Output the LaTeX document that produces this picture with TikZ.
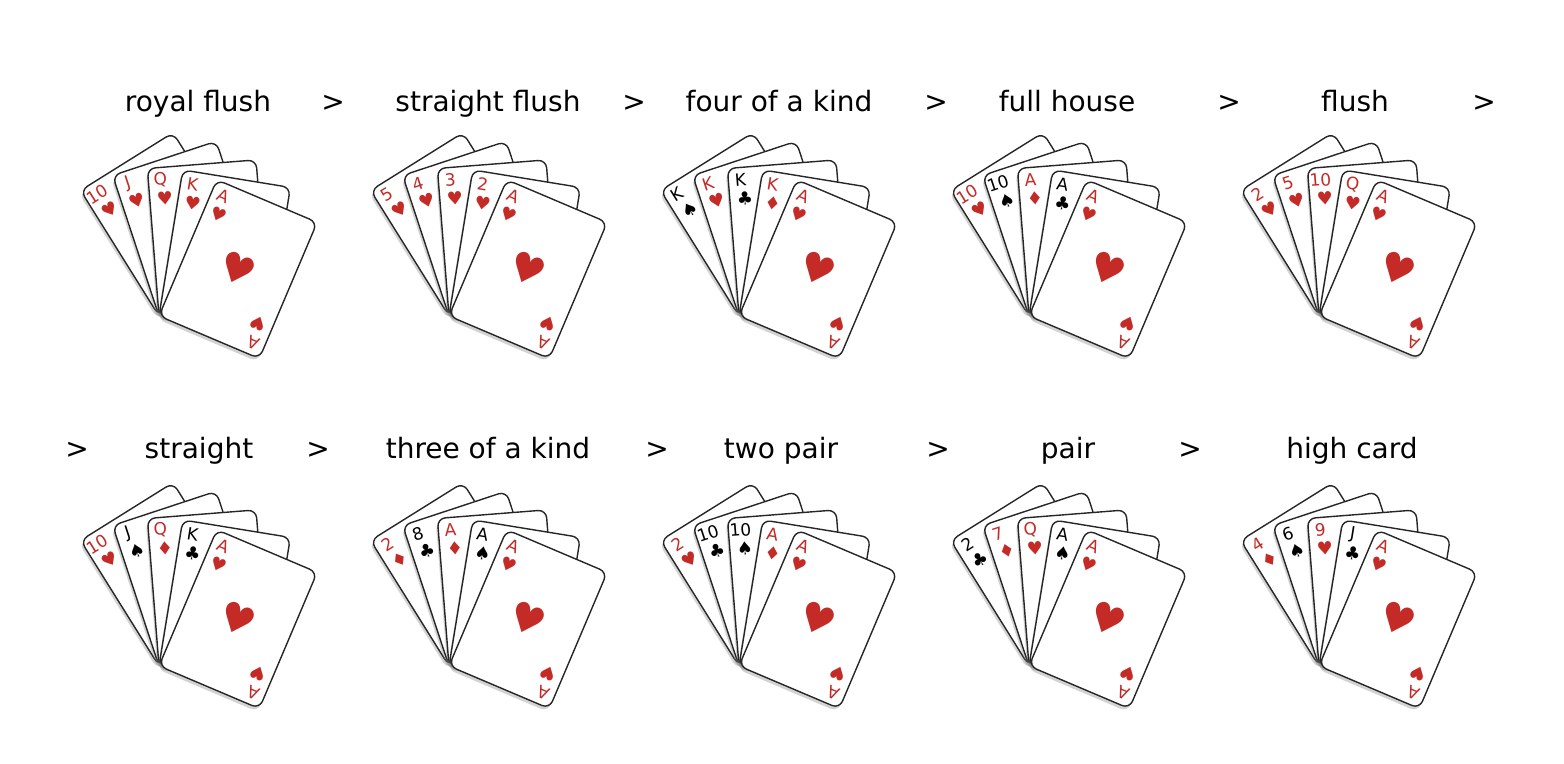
\documentclass[tikz,border=0pt]{standalone}
\usepackage{fontspec}
\setmainfont{DejaVu Sans}
\usepackage{tikz}
\usetikzlibrary{shadows}

\definecolor{cardh}{RGB}{196,42,38}
\definecolor{cardd}{RGB}{196,42,38}
\definecolor{cardc}{RGB}{0,0,0}
\definecolor{cards}{RGB}{0,0,0}

\newcommand{\suith}{♥}
\newcommand{\suitd}{♦}
\newcommand{\suitc}{♣}
\newcommand{\suits}{♠}

% a fanned hand of five cards, the last one shows its face
\newcommand{\pokerhand}[3]{%
  \foreach \r/\s [count=\i from 0, evaluate=\i as \a using 32-13.75*\i] in {#3} {
    \begin{scope}[shift={(#1,#2)}, rotate=\a, transform shape]
      \draw[card] (0,0) rectangle (54.5pt,74pt);
      \node[index, text=card\s] (rank\i) at (6pt,67.8pt) {\r};
      \node[pip, text=card\s] (pip\i) at (7.5pt,58.3pt) {\csname suit\s\endcsname};
      \ifnum\i=4
        \node[bigpip, text=card\s] (face) at (27.25pt,37pt) {\csname suit\s\endcsname};
        \node[index, text=card\s, rotate=180] (rankb) at (48.5pt,6.2pt) {\r};
        \node[pip, text=card\s, rotate=180] (pipb) at (47pt,15.7pt) {\csname suit\s\endcsname};
      \fi
    \end{scope}
  }%
}

\begin{document}
\begin{tikzpicture}
      [x=0.5pt, y=0.5pt,
        card/.style={fill=white, draw=black!85, line width=0.7pt,
          rounded corners=4pt,
          drop shadow={shadow xshift=-0.8pt, shadow yshift=-1.6pt, opacity=0.35}},
        index/.style={inner sep=0pt, font=\fontsize{8.5}{9}\selectfont},
        pip/.style={inner sep=0pt, font=\fontsize{9}{9}\selectfont},
        bigpip/.style={inner sep=0pt, font=\fontsize{20}{20}\selectfont},
        title/.style={anchor=base, font=\fontsize{14}{16}\selectfont},
        gt/.style={anchor=base, font=\fontsize{14}{16}\selectfont}]
  \useasboundingbox (0,0) rectangle (1564,-764);

  % first row
  \node[title] (royal) at (198,-112) {royal flush};
  \node[title] (sflush) at (488,-112) {straight flush};
  \node[title] (four) at (779,-112) {four of a kind};
  \node[title] (full) at (1067,-112) {full house};
  \node[title] (flush) at (1355,-112) {flush};
  \node[gt] (gt1) at (333,-112) {>};
  \node[gt] (gt2) at (634,-112) {>};
  \node[gt] (gt3) at (936,-112) {>};
  \node[gt] (gt4) at (1229,-112) {>};
  \node[gt] (gt5) at (1484,-112) {>};

  \pokerhand{159}{-316}{10/h, J/h, Q/h, K/h, A/h}
  \pokerhand{449}{-316}{5/h, 4/h, 3/h, 2/h, A/h}
  \pokerhand{739}{-316}{K/s, K/h, K/c, K/d, A/h}
  \pokerhand{1029}{-316}{10/h, 10/s, A/d, A/c, A/h}
  \pokerhand{1319}{-316}{2/h, 5/h, 10/h, Q/h, A/h}

  % second row
  \node[title] (straight) at (199,-459) {straight};
  \node[title] (three) at (488,-459) {three of a kind};
  \node[title] (twopair) at (781,-459) {two pair};
  \node[title] (pair) at (1068,-459) {pair};
  \node[title] (high) at (1352,-459) {high card};
  \node[gt] (gt6) at (77,-459) {>};
  \node[gt] (gt7) at (318,-459) {>};
  \node[gt] (gt8) at (657,-459) {>};
  \node[gt] (gt9) at (938,-459) {>};
  \node[gt] (gt10) at (1190,-459) {>};

  \pokerhand{159}{-666}{10/h, J/s, Q/d, K/c, A/h}
  \pokerhand{449}{-666}{2/d, 8/c, A/d, A/s, A/h}
  \pokerhand{739}{-666}{2/h, 10/c, 10/s, A/d, A/h}
  \pokerhand{1029}{-666}{2/c, 7/d, Q/h, A/s, A/h}
  \pokerhand{1319}{-666}{4/d, 6/s, 9/h, J/c, A/h}
 \end{tikzpicture}
\end{document}
